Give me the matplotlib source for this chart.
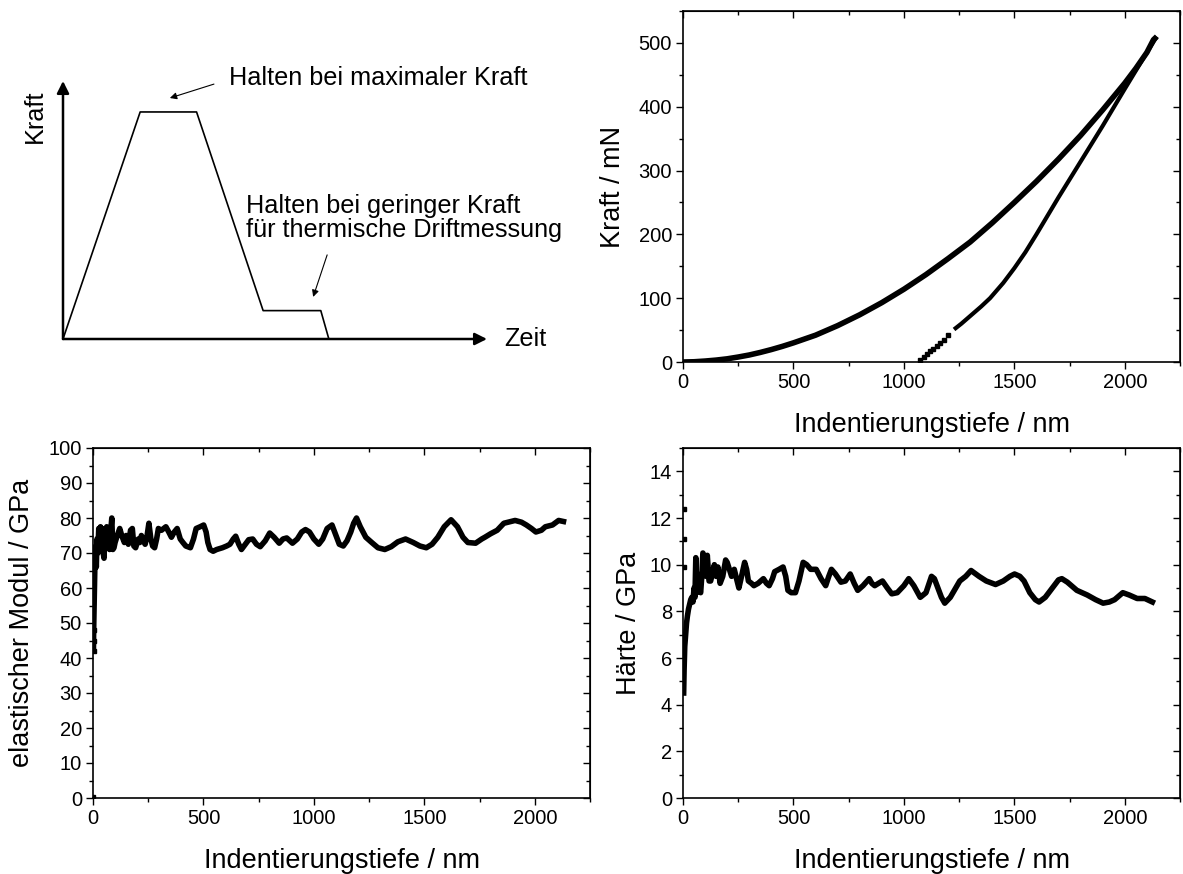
import numpy as np
import matplotlib.pyplot as plt
from matplotlib.ticker import MultipleLocator, NullFormatter

plt.rcParams['font.family'] = ['Liberation Sans', 'DejaVu Sans']

# schematic load profile (time, force in arbitrary units 0..100)
prof_t = [0, 18.2, 31.5, 47.2, 60.8, 62.7]
prof_f = [0, 88.0, 88.0, 11.0, 11.0, 0]

# load-displacement curve (nm, mN)
load_h = [0, 50, 100, 150, 200, 250, 300, 350, 400, 450, 500, 600, 700, 800, 900, 1000,
          1100, 1200, 1300, 1400, 1500, 1600, 1700, 1800, 1900, 2000, 2050, 2100, 2130, 2145]
load_f = [0, 0.4, 1.5, 3, 5, 7.8, 11, 15, 19.5, 24.5, 30, 42, 57, 74, 93, 114,
          137, 162, 188, 218, 250, 283, 318, 355, 395, 437, 460, 485, 505, 510]
unload_h = [2145, 2100, 2000, 1900, 1800, 1700, 1600, 1550, 1500, 1450, 1390,
            1350, 1300, 1260, 1227]
unload_f = [510, 485, 428, 370, 314, 258, 200, 172, 147, 124, 100,
            87, 72, 60, 51]
unload_low_h = [1074, 1089, 1104, 1119, 1134, 1149, 1164, 1180, 1198]
unload_low_f = [3, 7.5, 12, 16.5, 21, 25.5, 30, 35, 42]

# elastic modulus vs depth (nm, GPa)
mod_h = [2, 3, 5, 7, 9, 12, 15, 18, 22, 26, 30, 34, 38, 42, 46, 50, 54, 58, 62, 66,
         70, 75, 80, 85, 90, 95, 100, 110, 121, 130, 142, 150, 160, 170, 178, 185, 193,
         205, 212, 219, 228, 236, 245, 253, 262, 270, 279, 288, 296, 310, 330, 343, 355,
         368, 381, 395, 407, 420, 441, 455, 467, 485, 501, 512, 520, 530, 544, 560, 586,
         605, 620, 635, 646, 660, 672, 690, 705, 723, 740, 757, 780, 800, 820, 843, 860,
         877, 903, 925, 945, 962, 980, 1000, 1022, 1040, 1060, 1082, 1100, 1115, 1133,
         1150, 1167, 1180, 1193, 1210, 1235, 1262, 1290, 1321, 1350, 1380, 1415, 1450,
         1480, 1509, 1535, 1561, 1590, 1621, 1650, 1675, 1697, 1732, 1760, 1774, 1800,
         1830, 1860, 1911, 1940, 1962, 1985, 2005, 2030, 2048, 2080, 2108, 2130]
mod_e = [42, 48, 55, 63, 68, 72, 66, 74, 70, 77, 72, 77.5, 73, 77, 70, 68.5, 76, 73, 77.5, 72,
         77, 71, 76, 80, 71, 71.5, 73, 75, 77, 75, 73, 75, 72.5, 76.5, 77, 72, 71.5,
         74, 73, 75, 73.5, 72.5, 75, 78.5, 74, 72, 71.5, 74, 77, 76.5, 77.5, 76, 74.5,
         76, 77, 74, 73, 72, 71.5, 74, 77, 77.5, 78, 76, 73, 71, 70.5, 71, 71.5,
         72, 72.5, 74, 74.8, 72.5, 71, 72.5, 73.8, 74, 72.5, 71.8, 73.5, 75.7, 74.5, 72.8, 74,
         74.3, 72.8, 74, 76, 76.7, 76, 74, 72.5, 74, 77, 78, 75, 72.5, 72,
         73.5, 76, 78.5, 80, 77.5, 74.5, 73, 71.5, 71, 71.8, 73.2, 74, 73,
         72, 71.5, 72.5, 74.5, 77.5, 79.5, 77.5, 74.5, 73, 72.8, 74, 74.5, 75.5,
         76.5, 78.5, 79.3, 78.8, 78, 77, 76, 76.5, 77.5, 78, 79.3, 79]
mod_pts_h = [2, 3, 3, 4]
mod_pts_e = [0.3, 42, 45, 48]

# hardness vs depth (nm, GPa)
hard_h = [3, 5, 8, 12, 16, 20, 25, 30, 35, 40, 45, 50, 54, 58, 62, 66, 70, 75, 80, 85, 90,
          95, 100, 105, 110, 118, 125, 133, 142, 150, 158, 168, 180, 193, 200, 210, 220,
          232, 245, 253, 265, 279, 288, 296, 310, 321, 340, 364, 378, 390, 405, 415, 435,
          453, 465, 475, 490, 509, 525, 544, 560, 578, 603, 625, 646, 660, 672, 690, 715,
          735, 757, 775, 791, 815, 843, 855, 868, 885, 903, 925, 945, 970, 1000, 1022,
          1045, 1074, 1100, 1125, 1138, 1150, 1170, 1185, 1210, 1253, 1280, 1304, 1340,
          1373, 1415, 1450, 1480, 1501, 1525, 1544, 1570, 1595, 1612, 1640, 1672, 1700,
          1715, 1740, 1783, 1830, 1868, 1902, 1930, 1954, 1991, 2020, 2056, 2091, 2125]
hard_v = [4.5, 5.5, 6.5, 7, 7.5, 7.8, 8.1, 8.3, 8.5, 8.6, 8.4, 9, 8.6, 10.3, 8.8, 9.6, 9.5,
          8.9, 8.8, 9.5, 10.5, 10.4, 10.3, 9.5, 10.4, 9.3, 9.3, 9.6, 10, 9.5, 9.9, 9.2, 9.5,
          10.2, 10.1, 9.8, 9.5, 9.8, 9.3, 9, 9.5, 10.1, 9.8, 9.3, 9.2, 9.1, 9.2, 9.4, 9.2,
          9.1, 9.4, 9.7, 9.8, 9.9, 9.5, 8.9, 8.8, 8.8, 9.3, 10.1, 10, 9.8, 9.8, 9.4, 9.1,
          9.5, 9.8, 9.6, 9.25, 9.3, 9.6, 9.2, 8.9, 9.1, 9.4, 9.2, 9.1, 9.2, 9.3, 9.0, 8.75,
          8.8, 9.1, 9.4, 9.1, 8.6, 8.8, 9.5, 9.4, 9.1, 8.6, 8.35, 8.6, 9.3, 9.5, 9.75, 9.5,
          9.3, 9.15, 9.3, 9.5, 9.6, 9.5, 9.3, 8.8, 8.5, 8.4, 8.6, 9.0, 9.35,
          9.4, 9.25, 8.9, 8.7, 8.5, 8.35, 8.4, 8.5, 8.8, 8.7, 8.55, 8.55, 8.4]
hard_pts_h = [5, 5, 5]
hard_pts_v = [12.4, 11.1, 9.9]

W, H = 1183, 874
fig = plt.figure(figsize=(W / 100, H / 100), dpi=100)


def rect(l, t, r, b):
    return [l / W, 1 - b / H, (r - l) / W, (b - t) / H]


def style(ax, xmaj, xmin, ymaj, ymin, xlim, ylim):
    ax.set_xlim(*xlim)
    ax.set_ylim(*ylim)
    ax.xaxis.set_major_locator(MultipleLocator(xmaj))
    ax.xaxis.set_minor_locator(MultipleLocator(xmin))
    ax.yaxis.set_major_locator(MultipleLocator(ymaj))
    ax.yaxis.set_minor_locator(MultipleLocator(ymin))
    ax.tick_params(which='major', direction='out', length=5, width=1, labelsize=14.5, pad=3)
    ax.tick_params(which='minor', direction='out', length=3, width=1)
    for s in ax.spines.values():
        s.set_linewidth(1.2)
    top = ax.secondary_xaxis('top')
    top.xaxis.set_major_locator(MultipleLocator(xmaj))
    top.xaxis.set_minor_locator(MultipleLocator(xmin))
    top.xaxis.set_major_formatter(NullFormatter())
    top.tick_params(which='major', direction='in', length=5, width=1)
    top.tick_params(which='minor', direction='in', length=3, width=1)
    right = ax.secondary_yaxis('right')
    right.yaxis.set_major_locator(MultipleLocator(ymaj))
    right.yaxis.set_minor_locator(MultipleLocator(ymin))
    right.yaxis.set_major_formatter(NullFormatter())
    right.tick_params(which='major', direction='in', length=5, width=1)
    right.tick_params(which='minor', direction='in', length=3, width=1)
    ax.set_xlabel('Indentierungstiefe / nm', fontsize=19.5, labelpad=14)


# schematic
ax0 = fig.add_axes(rect(63, 81, 487, 339))
ax0.set_xlim(0, 100)
ax0.set_ylim(0, 100)
ax0.axis('off')
ax0.plot(prof_t, prof_f, color='black', lw=1.2)
axis_arrow = dict(arrowstyle='-|>', lw=1.8, color='black', shrinkA=0, shrinkB=0,
                  mutation_scale=18)
ax0.annotate('', xy=(100, 0), xytext=(0, 0), arrowprops=axis_arrow)
ax0.annotate('', xy=(0, 100), xytext=(0, 0), arrowprops=axis_arrow)
note_arrow = dict(arrowstyle='-|>', lw=0.8, color='black', shrinkA=0, shrinkB=0,
                  mutation_scale=10)
ax0.annotate('', xy=(25.2, 93.4), xytext=(35.6, 98.8), arrowprops=note_arrow)
ax0.annotate('', xy=(59.0, 16.3), xytext=(62.3, 32.6), arrowprops=note_arrow)
ax0.text(39.2, 98.4, 'Halten bei maximaler Kraft', fontsize=18.2, va='baseline', clip_on=False)
ax0.text(43.2, 48.7, 'Halten bei geringer Kraft', fontsize=18.2, va='baseline', clip_on=False)
ax0.text(43.2, 39.7, 'für thermische Driftmessung', fontsize=18.2, va='baseline', clip_on=False)
ax0.text(104, -2.6, 'Zeit', fontsize=18.2, va='baseline', clip_on=False)
ax0.text(-6.6, 86.4, 'Kraft', fontsize=18.2, rotation=90, ha='center', va='center', clip_on=False)

# load-displacement
ax1 = fig.add_axes(rect(683, 11, 1180, 362))
ax1.plot(load_h, load_f, color='black', lw=4, solid_capstyle='butt')
ax1.plot(unload_h, unload_f, color='black', lw=3, solid_capstyle='butt')
ax1.plot(unload_low_h, unload_low_f, 's', color='black', ms=3.2)
style(ax1, 500, 250, 100, 50, (0, 2250), (0, 550))
ax1.set_ylabel('Kraft / mN', fontsize=19.5, labelpad=9)

# modulus
ax2 = fig.add_axes(rect(93, 448, 590, 798))
ax2.plot(mod_h, mod_e, color='black', lw=4)
ax2.plot(mod_pts_h, mod_pts_e, 's', color='black', ms=3.5)
style(ax2, 500, 250, 10, 5, (0, 2250), (0, 100))
ax2.set_ylabel('elastischer Modul / GPa', fontsize=19.5, labelpad=9.5)

# hardness
ax3 = fig.add_axes(rect(683, 448, 1180, 798))
ax3.plot(hard_h, hard_v, color='black', lw=4)
ax3.plot(hard_pts_h, hard_pts_v, 's', color='black', ms=3.5)
style(ax3, 500, 250, 2, 1, (0, 2250), (0, 15))
ax3.set_ylabel('Härte / GPa', fontsize=19.5, labelpad=5.5)

fig.savefig('out.png', dpi=100)
